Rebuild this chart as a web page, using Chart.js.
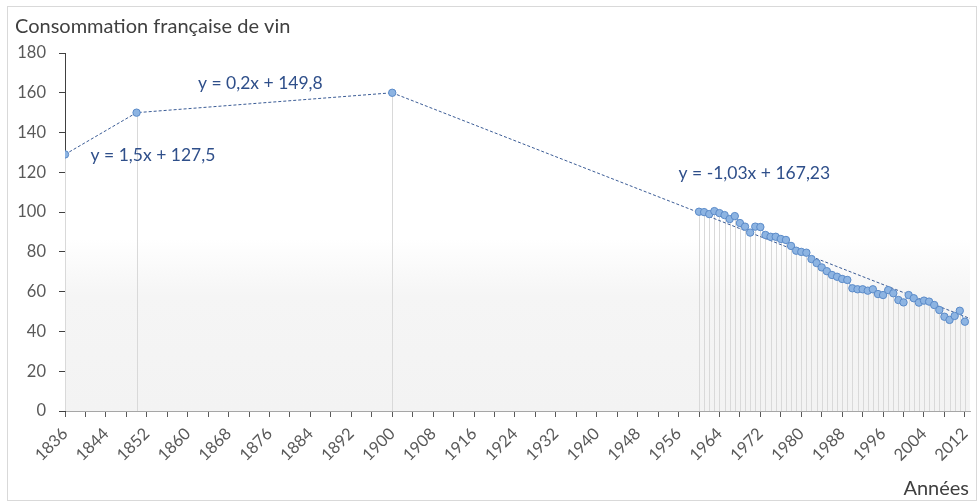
<!DOCTYPE html>
<html>
<head>
<meta charset="utf-8">
<title>Consommation française de vin</title>
<script src="https://cdn.jsdelivr.net/npm/chart.js@4.4.1/dist/chart.umd.min.js"></script>
<style>
  html, body { margin: 0; padding: 0; background: #fff; }
  #wrap { position: relative; width: 978px; height: 501px; }
</style>
</head>
<body>
<div id="wrap"><canvas id="wine-chart" width="978" height="501"></canvas></div>
<script>
// consommation (litres / habitant / an)
var historicYears = [1836, 1850, 1900];
var historicValues = [129, 150, 160];

var recentYears = [
  1960, 1961, 1962, 1963, 1964, 1965, 1966, 1967, 1968, 1969,
  1970, 1971, 1972, 1973, 1974, 1975, 1976, 1977, 1978, 1979,
  1980, 1981, 1982, 1983, 1984, 1985, 1986, 1987, 1988, 1989,
  1990, 1991, 1992, 1993, 1994, 1995, 1996, 1997, 1998, 1999,
  2000, 2001, 2002, 2003, 2004, 2005, 2006, 2007, 2008, 2009,
  2010, 2011, 2012
];
var recentValues = [
  100.2, 100, 99, 100.5, 99.5, 98.5, 96.5, 98, 94.5, 92.7,
  89.7, 92.7, 92.5, 88.5, 87.6, 87.6, 86.5, 86, 83, 80.6,
  80, 79.6, 76.4, 74.4, 72.2, 70.3, 68.4, 67.5, 66.4, 65.9,
  61.7, 61.2, 61.2, 60.5, 61.2, 58.8, 58.3, 60.8, 59.2, 55.8,
  54.6, 58.3, 56.7, 54.5, 55.5, 55, 53.3, 50.8, 47.4, 45.8,
  47.8, 50.4, 44.9
];

// courbe de tendance de la dernière période
var trendYears = [1900, 2013];
var trendValues = [160, 46.5];

var yTickValues = [0, 20, 40, 60, 80, 100, 120, 140, 160, 180];
var xLabelYears = [
  1836, 1844, 1852, 1860, 1868, 1876, 1884, 1892, 1900, 1908, 1916, 1924,
  1932, 1940, 1948, 1956, 1964, 1972, 1980, 1988, 1996, 2004, 2012
];

var equationTexts = ["y = 1,5x + 127,5", "y = 0,2x + 149,8", "y = -1,03x + 167,23"];
var equationYears = [1841, 1862, 1956];
var equationValues = [128.7, 164.8, 119.7];

(function () {
  "use strict";

  var FONT = "Lato, 'Open Sans', sans-serif";
  Chart.defaults.font.family = FONT;
  Chart.defaults.color = "#595959";

  function pairs(xs, ys) {
    return xs.map(function (x, i) { return { x: x, y: ys[i] }; });
  }

  // fond, cadre, titres et équations
  var decor = {
    id: "decor",
    beforeDraw: function (chart) {
      var c = chart.ctx, a = chart.chartArea;
      c.save();
      c.fillStyle = "#fff";
      c.fillRect(0, 0, chart.width, chart.height);
      var g = c.createLinearGradient(0, a.top, 0, a.bottom);
      g.addColorStop(0, "#ffffff");
      g.addColorStop(0.52, "#ffffff");
      g.addColorStop(0.68, "#f5f5f5");
      g.addColorStop(1, "#f3f3f3");
      c.fillStyle = g;
      c.fillRect(a.left, a.top, a.right - a.left, a.bottom - a.top);
      c.strokeStyle = "#d9d9d9";
      c.lineWidth = 1;
      c.strokeRect(7.5, 6.5, 969, 494);
      c.restore();
    },
    beforeDatasetsDraw: function (chart) {
      var c = chart.ctx, bottom = chart.chartArea.bottom;
      c.save();
      c.strokeStyle = "#d9d9d9";
      c.lineWidth = 1;
      chart.data.datasets.forEach(function (ds, i) {
        if (!ds.dropLines) return;
        chart.getDatasetMeta(i).data.forEach(function (pt) {
          var x = Math.round(pt.x) + 0.5;
          c.beginPath();
          c.moveTo(x, pt.y);
          c.lineTo(x, bottom);
          c.stroke();
        });
      });
      c.restore();
    },
    afterDraw: function (chart) {
      var c = chart.ctx, xs = chart.scales.x, ys = chart.scales.y;
      c.save();
      c.fillStyle = "#404040";
      c.font = "20px " + FONT;
      c.textBaseline = "alphabetic";
      c.textAlign = "left";
      c.fillText("Consommation française de vin", 15, 33);
      c.textAlign = "right";
      c.fillText("Années", 969, 495);
      c.fillStyle = "#2F4F8A";
      c.font = "17.5px " + FONT;
      c.textAlign = "left";
      c.textBaseline = "middle";
      equationTexts.forEach(function (t, i) {
        c.fillText(t, xs.getPixelForValue(equationYears[i]), ys.getPixelForValue(equationValues[i]));
      });
      c.restore();
    }
  };

  var pointStyle = {
    pointRadius: 3.7,
    pointBackgroundColor: "#8DB4E2",
    pointBorderColor: "#5B8BC9",
    pointBorderWidth: 1
  };

  new Chart(document.getElementById("wine-chart").getContext("2d"), {
    type: "scatter",
    data: {
      datasets: [
        {
          label: "Tendance",
          data: pairs(trendYears, trendValues),
          showLine: true,
          borderColor: "#3B5C96",
          borderWidth: 1,
          borderDash: [3, 2],
          pointRadius: 0,
          order: 3
        },
        Object.assign({
          label: "1836-1900",
          data: pairs(historicYears, historicValues),
          showLine: true,
          borderColor: "#3B5C96",
          borderWidth: 1,
          borderDash: [3, 2],
          dropLines: true,
          order: 2
        }, pointStyle),
        Object.assign({
          label: "1960-2012",
          data: pairs(recentYears, recentValues),
          showLine: true,
          borderColor: "#6A97CF",
          borderWidth: 1,
          dropLines: true,
          order: 1
        }, pointStyle)
      ]
    },
    options: {
      responsive: false,
      animation: false,
      layout: { autoPadding: false, padding: { left: 10, right: 8, top: 53, bottom: 0 } },
      plugins: { legend: { display: false }, tooltip: { enabled: false } },
      scales: {
        x: {
          type: "linear",
          min: 1836,
          max: 2013,
          afterBuildTicks: function (s) {
            var t = [];
            xLabelYears.forEach(function (y) {
              t.push({ value: y });
              if (y + 4 < s.max) t.push({ value: y + 4 });
            });
            s.ticks = t;
          },
          afterFit: function (s) {
            s.height = 90;
            s.paddingRight = 0; // l'axe garde toute la largeur
          },
          ticks: {
            autoSkip: false,
            minRotation: 45,
            maxRotation: 45,
            padding: 7,
            color: "#595959",
            font: { size: 16.5 },
            callback: function (v) { return xLabelYears.indexOf(v) >= 0 ? String(v) : ""; }
          },
          grid: { drawOnChartArea: false, tickLength: 6, color: "#595959" },
          border: { color: "#a6a6a6" }
        },
        y: {
          min: 0,
          max: 180,
          afterBuildTicks: function (s) {
            s.ticks = yTickValues.map(function (v) { return { value: v }; });
          },
          afterFit: function (s) { s.width = 55; },
          ticks: { padding: 13, color: "#595959", font: { size: 16.5 } },
          grid: { drawOnChartArea: false, tickLength: 6, color: "#404040" },
          border: { color: "#404040" }
        }
      }
    },
    plugins: [decor]
  });
})();
</script>
</body>
</html>
